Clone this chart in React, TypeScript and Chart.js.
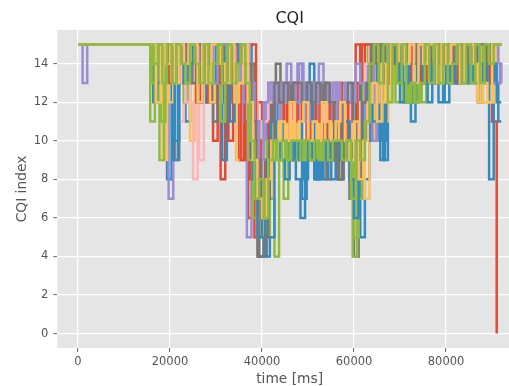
import React, { useEffect, useRef } from 'react';
import { Chart, registerables } from 'chart.js';
Chart.register(...registerables);

const FONT = 'DejaVu Sans';

// sampling instants of the three groups of UEs (ms)
const timesA = [
  0, 1000, 2000,
  15000, 16000, 17000, 18000, 19000, 20000, 21000, 22000, 23000, 24000,
  25000, 26000, 27000, 28000, 29000, 30000, 31000, 32000, 33000, 34000,
  35000, 36000, 37000, 38000, 39000, 40000, 41000, 42000, 43000, 44000,
  45000, 46000, 47000, 48000, 49000, 50000, 51000, 52000, 53000, 54000,
  55000, 56000, 57000, 58000, 59000, 60000, 61000, 62000, 63000, 64000,
  65000, 66000, 67000, 68000, 69000, 70000, 71000, 72000, 73000, 74000,
  75000, 76000, 77000, 78000, 79000, 80000, 81000, 82000, 83000, 84000,
  85000, 86000, 87000, 88000, 89000, 90000, 91000, 92000,
];
const timesB = [
  0, 1000, 2000,
  15350, 16350, 17350, 18350, 19350, 20350, 21350, 22350, 23350, 24350,
  25350, 26350, 27350, 28350, 29350, 30350, 31350, 32350, 33350, 34350,
  35350, 36350, 37350, 38350, 39350, 40350, 41350, 42350, 43350, 44350,
  45350, 46350, 47350, 48350, 49350, 50350, 51350, 52350, 53350, 54350,
  55350, 56350, 57350, 58350, 59350, 60350, 61350, 62350, 63350, 64350,
  65350, 66350, 67350, 68350, 69350, 70350, 71350, 72350, 73350, 74350,
  75350, 76350, 77350, 78350, 79350, 80350, 81350, 82350, 83350, 84350,
  85350, 86350, 87350, 88350, 89350, 90350, 91350, 92000,
];
const timesC = [
  0, 1000, 2000,
  15700, 16700, 17700, 18700, 19700, 20700, 21700, 22700, 23700, 24700,
  25700, 26700, 27700, 28700, 29700, 30700, 31700, 32700, 33700, 34700,
  35700, 36700, 37700, 38700, 39700, 40700, 41700, 42700, 43700, 44700,
  45700, 46700, 47700, 48700, 49700, 50700, 51700, 52700, 53700, 54700,
  55700, 56700, 57700, 58700, 59700, 60700, 61700, 62700, 63700, 64700,
  65700, 66700, 67700, 68700, 69700, 70700, 71700, 72700, 73700, 74700,
  75700, 76700, 77700, 78700, 79700, 80700, 81700, 82700, 83700, 84700,
  85700, 86700, 87700, 88700, 89700, 90700, 91700, 92000,
];
const timeGroups = [timesA, timesB, timesC];

const red1 = [
  15, 15, 15,
  15, 15, 15, 15, 15, 14, 15, 15, 13, 15, 14, 15, 13, 15, 12, 15, 8, 15, 13, 15, 9, 15,
  6, 8, 12, 11, 10, 12,
  11, 12, 10, 12, 11, 12, 13, 11, 12, 10, 12, 11, 12, 10, 11, 12,
  10, 12, 8, 12,
  13, 15, 14, 15, 13, 15,
  15, 14, 15, 13, 15, 15, 14, 15, 13, 15, 15, 14, 15, 15, 13, 15, 14, 15, 13, 15, 14, 11,
  0, null,
];
const blue1 = [
  15, 15, 15,
  15, 12, 15, 14, 8, 13, 15, 14, 11, 15, 13, 14, 15, 12, 13, 14, 9, 14, 12, 14, 15, 13,
  11, 9, 4, 5, 8, 10,
  12, 10, 9, 11, 8, 6, 9, 14, 8, 9, 8, 10, 9, 11, 10, 9,
  9, 10, 5, 8,
  12, 10, 13, 9, 13, 14,
  14, 13, 12, 11, 13, 14, 13, 14, 13, 12, 13, 14, 13, 14, 13, 15, 14, 13, 14, 13, 8, 13,
  11, 11,
];
const purple1 = [
  15, 13, 15,
  15, 15, 15, 15, 7, 15, 14, 15, 13, 15, 14, 15, 15, 12, 15, 14, 15, 13, 15, 14, 11, 5,
  9, 7, 10, 12, 11, 13,
  12, 13, 11, 13, 14, 12, 13, 11, 12, 13, 11, 12, 13, 12, 11, 10,
  12, 11, 13, 10,
  14, 10, 12, 14, 13, 15,
  15, 15, 14, 15, 15, 14, 15, 15, 15, 14, 15, 15, 15, 14, 15, 15, 15, 14, 15, 15, 15, 14,
  13, 13,
];
const gray1 = [
  15, 15, 15,
  15, 15, 15, 15, 15, 14, 9, 15, 13, 15, 14, 15, 12, 13, 15, 14, 15, 13, 12, 15, 14, 15,
  12, 7, 4, 4, 9, 13,
  14, 13, 12, 13, 12, 13, 12, 13, 12, 13, 12, 8, 9, 12, 13, 12,
  7, 4, 10, 12,
  13, 15, 14, 15, 14, 13,
  14, 15, 14, 15, 14, 15, 15, 14, 15, 14, 15, 14, 15, 14, 15, 13, 14, 15, 14, 15, 14, 15,
  15, 15,
];
const yellow1 = [
  15, 15, 15,
  15, 15, 15, 9, 15, 13, 15, 14, 15, 10, 15, 13, 15, 14, 15, 12, 15, 14, 13, 9, 15, 14,
  10, 6, 5, 9, 7, 11,
  10, 11, 9, 11, 10, 12, 11, 9, 10, 11, 12, 10, 11, 9, 10, 11,
  11, 9, 12, 7,
  10, 12, 14, 11, 15, 13,
  15, 14, 13, 15, 14, 15, 13, 15, 14, 15, 13, 15, 14, 15, 13, 14, 15, 13, 12, 12, 12, 14,
  15, 15,
];
const green1 = [
  15, 15, 15,
  11, 15, 9, 13, 15, 13, 14, 15, 13, 15, 13, 14, 15, 13, 15, 13, 15, 12, 13, 15, 13, 15,
  11, 8, 6, 5, 7, 4,
  9, 7, 10, 9, 10, 9, 10, 9, 10, 9, 10, 9, 10, 9, 10, 9,
  4, 7, 10, 12,
  13, 15, 12, 15, 14, 15,
  13, 12, 13, 12, 13, 12, 13, 15, 13, 15, 13, 15, 13, 15, 13, 15, 13, 15, 14, 13, 15, 15,
  15, 15,
];
const pink1 = [
  15, 15, 15,
  15, 15, 15, 15, 15, 13, 15, 11, 15, 12, 8, 14, 15, 13, 15, 14, 15, 15, 14, 15, 15, 14,
  13, 12, 10, 11, 12, 12,
  12, 11, 12, 11, 12, 11, 12, 11, 12, 11, 12, 11, 12, 13, 12, 11,
  12, 10, 13, 11,
  14, 15, 13, 14, 15, 15,
  15, 15, 15, 14, 15, 15, 15, 15, 14, 15, 15, 15, 15, 15, 14, 15, 15, 15, 15, 14, 15, 15,
  15, 15,
];
const red2 = [
  15, 15, 15,
  15, 15, 15, 14, 15, 15, 15, 14, 13, 15, 15, 14, 12, 15, 10, 15, 14, 15, 15, 13, 9, 15,
  8, 5, 10, 12, 13, 12,
  13, 12, 11, 12, 13, 12, 11, 13, 12, 11, 10, 12, 11, 13, 12, 11,
  12, 15, 14, 15,
  15, 14, 15, 13, 15, 14,
  15, 15, 13, 15, 14, 15, 15, 15, 13, 15, 14, 15, 15, 13, 15, 15, 15, 14, 15, 15, 13, 15,
  15, 15,
];
const blue2 = [
  15, 15, 15,
  15, 15, 15, 15, 15, 9, 15, 14, 15, 13, 14, 12, 15, 13, 14, 15, 12, 13, 15, 14, 13, 15,
  9, 7, 6, 4, 5, 10,
  11, 10, 9, 10, 12, 7, 9, 10, 8, 9, 11, 9, 10, 8, 9, 10,
  9, 11, 13, 10,
  12, 14, 9, 13, 15, 14,
  13, 14, 13, 12, 14, 13, 14, 13, 14, 15, 12, 14, 13, 14, 15, 13, 14, 13, 14, 13, 14, 13,
  13, 13,
];
const purple2 = [
  15, 15, 15,
  15, 15, 15, 15, 15, 15, 14, 15, 15, 13, 15, 15, 14, 15, 15, 13, 15, 15, 14, 15, 14, 12,
  11, 9, 8, 10, 12, 13,
  11, 13, 12, 13, 11, 14, 12, 13, 11, 12, 13, 12, 11, 13, 12, 13,
  13, 12, 11, 14,
  11, 10, 14, 12, 15, 14,
  15, 14, 15, 14, 15, 15, 14, 15, 14, 15, 15, 14, 15, 14, 15, 15, 14, 15, 14, 15, 15, 13,
  13, 13,
];
const gray2 = [
  15, 15, 15,
  15, 15, 15, 15, 15, 15, 15, 13, 15, 14, 15, 15, 13, 14, 11, 15, 15, 14, 15, 15, 13, 15,
  14, 11, 4, 5, 11, 12,
  13, 12, 13, 12, 13, 12, 13, 12, 13, 12, 13, 12, 13, 8, 12, 11,
  12, 10, 13, 12,
  14, 15, 14, 15, 14, 15,
  15, 14, 15, 15, 14, 15, 15, 14, 15, 15, 14, 15, 14, 15, 14, 14, 15, 14, 15, 14, 15, 15,
  15, 15,
];
const yellow2 = [
  15, 15, 15,
  15, 15, 15, 15, 12, 15, 14, 15, 15, 13, 15, 14, 15, 12, 15, 13, 14, 15, 15, 13, 15, 14,
  11, 9, 6, 8, 9, 10,
  11, 12, 11, 10, 11, 12, 10, 11, 12, 11, 10, 11, 12, 10, 11, 12,
  10, 8, 11, 13,
  11, 14, 12, 15, 13, 15,
  14, 15, 15, 14, 15, 14, 15, 15, 14, 13, 15, 15, 14, 15, 15, 14, 15, 12, 15, 15, 14, 15,
  15, 15,
];
const green2 = [
  15, 15, 15,
  15, 13, 15, 11, 15, 14, 13, 15, 12, 14, 15, 13, 14, 15, 13, 15, 11, 14, 15, 13, 14, 15,
  9, 6, 5, 8, 10, 9,
  10, 9, 10, 9, 9, 10, 9, 10, 9, 10, 9, 10, 9, 9, 10, 9,
  9, 5, 12, 14,
  15, 13, 15, 14, 15, 15,
  12, 13, 12, 13, 12, 15, 13, 15, 14, 15, 13, 15, 13, 14, 15, 13, 15, 13, 14, 15, 13, 15,
  15, 15,
];
const pink2 = [
  15, 15, 15,
  15, 15, 15, 14, 15, 15, 13, 15, 12, 15, 15, 9, 15, 14, 15, 13, 15, 14, 15, 15, 13, 15,
  12, 10, 9, 11, 12, 13,
  12, 13, 12, 11, 12, 13, 11, 12, 13, 12, 11, 12, 13, 12, 11, 12,
  11, 9, 12, 14,
  15, 13, 15, 14, 15, 15,
  15, 15, 14, 15, 15, 15, 14, 15, 15, 15, 15, 14, 15, 15, 15, 15, 14, 15, 15, 15, 14, 15,
  15, 15,
];
const red3 = [
  15, 15, 15,
  15, 15, 15, 15, 13, 15, 15, 14, 15, 15, 12, 15, 14, 15, 15, 13, 15, 10, 15, 14, 15, 15,
  15, 10, 7, 9, 11, 12,
  12, 11, 12, 13, 11, 12, 10, 12, 11, 12, 13, 11, 12, 11, 10, 12,
  11, 13, 15, 15,
  14, 15, 15, 13, 15, 15,
  15, 15, 15, 14, 15, 13, 15, 15, 15, 14, 15, 15, 13, 15, 15, 14, 15, 15, 15, 13, 15, 15,
  15, 15,
];
const blue3 = [
  15, 15, 15,
  15, 15, 13, 15, 14, 15, 10, 15, 13, 14, 15, 12, 15, 14, 13, 15, 14, 15, 11, 15, 14, 15,
  12, 8, 5, 6, 9, 11,
  10, 9, 8, 9, 10, 9, 8, 13, 9, 8, 9, 10, 8, 9, 10, 11,
  8, 6, 10, 12,
  13, 11, 14, 10, 14, 15,
  14, 12, 13, 14, 13, 14, 13, 12, 14, 13, 14, 13, 14, 13, 14, 13, 14, 13, 12, 14, 13, 14,
  12, 12,
];
const purple3 = [
  15, 15, 15,
  15, 15, 15, 15, 15, 14, 15, 15, 13, 15, 15, 14, 15, 15, 13, 15, 15, 14, 15, 13, 15, 15,
  13, 11, 9, 12, 13, 12,
  13, 12, 14, 13, 12, 13, 11, 13, 12, 14, 13, 12, 13, 11, 12, 13,
  12, 14, 13, 11,
  12, 14, 13, 15, 14, 15,
  15, 15, 15, 15, 14, 15, 15, 15, 15, 14, 15, 15, 15, 15, 15, 14, 15, 15, 15, 15, 15, 15,
  14, 13,
];
const gray3 = [
  15, 15, 15,
  15, 15, 15, 15, 14, 15, 15, 15, 14, 13, 15, 15, 14, 15, 15, 14, 13, 15, 15, 15, 14, 14,
  11, 9, 6, 7, 10, 13,
  12, 13, 12, 13, 13, 12, 13, 12, 13, 12, 13, 12, 9, 8, 12, 13,
  11, 8, 12, 13,
  15, 14, 15, 14, 15, 14,
  14, 15, 14, 14, 15, 14, 15, 14, 15, 14, 14, 15, 14, 15, 14, 15, 14, 15, 15, 14, 15, 15,
  15, 15,
];
const yellow3 = [
  15, 15, 15,
  15, 15, 12, 15, 14, 15, 13, 15, 14, 15, 15, 12, 15, 13, 15, 15, 14, 13, 15, 12, 13, 15,
  12, 9, 7, 6, 8, 10,
  10, 11, 10, 12, 10, 11, 12, 10, 11, 10, 12, 11, 10, 11, 12, 10,
  9, 11, 8, 10,
  12, 13, 11, 14, 12, 15,
  15, 15, 14, 15, 13, 15, 14, 15, 15, 13, 15, 14, 15, 15, 13, 15, 15, 14, 12, 13, 12, 15,
  15, 15,
];
const green3 = [
  15, 15, 15,
  15, 14, 15, 13, 15, 13, 15, 14, 13, 15, 14, 13, 15, 13, 14, 15, 13, 15, 13, 14, 15, 13,
  10, 7, 8, 6, 9, 10,
  9, 10, 9, 10, 10, 9, 10, 9, 10, 9, 10, 9, 10, 10, 9, 10,
  7, 10, 9, 11,
  14, 15, 13, 15, 12, 15,
  13, 15, 12, 13, 12, 13, 15, 13, 15, 13, 15, 13, 14, 15, 13, 15, 13, 15, 13, 15, 14, 15,
  15, 15,
];

const seriesList = [
  red1, blue1, purple1, gray1, yellow1, green1, pink1,
  red2, blue2, purple2, gray2, yellow2, green2, pink2,
  red3, blue3, purple3, gray3, yellow3, green3,
];
const seriesColors = ['#E24A33', '#348ABD', '#988ED5', '#777777', '#FBC15E', '#8EBA42', '#FFB5B8'];

const xTicks = [0, 20000, 40000, 60000, 80000];
const yTicks = [0, 2, 4, 6, 8, 10, 12, 14];

const chartTitle = 'CQI';
const xTitle = 'time [ms]';
const yTitle = 'CQI index';

const bgPlugin = {
  id: 'bgPlugin',
  beforeDraw(chart: any) {
    const { ctx, chartArea } = chart;
    ctx.save();
    ctx.fillStyle = '#E5E5E5';
    ctx.fillRect(chartArea.left, chartArea.top, chartArea.right - chartArea.left, chartArea.bottom - chartArea.top);
    ctx.restore();
  },
  afterDraw(chart: any) {
    const { ctx, chartArea } = chart;
    ctx.save();
    ctx.fillStyle = '#222222';
    ctx.font = `16px "${FONT}"`;
    ctx.textAlign = 'center';
    ctx.textBaseline = 'middle';
    ctx.fillText(chartTitle, (chartArea.left + chartArea.right) / 2, 18.5);
    ctx.restore();
  },
};

export default function App() {
  const ref = useRef<HTMLCanvasElement | null>(null);
  useEffect(() => {
    if (!ref.current) return;
    const n = seriesList.length;
    const datasets = seriesList.map((vals, i) => {
      const t = timeGroups[i % 3];
      return {
        label: 'UE ' + (i + 1),
        data: vals.map((v, j) => ({ x: t[j], y: v })),
        borderColor: seriesColors[i % seriesColors.length],
        backgroundColor: seriesColors[i % seriesColors.length],
        borderWidth: 2.5,
        pointRadius: 0,
        stepped: true as const,
        fill: false,
        spanGaps: false,
        order: n - i,
      };
    });
    const chart = new Chart(ref.current, {
      type: 'line',
      data: { datasets },
      plugins: [bgPlugin],
      options: {
        responsive: false,
        animation: false,
        devicePixelRatio: 1,
        layout: { padding: { left: 15.6, right: 13, top: 30, bottom: 0 } },
        plugins: {
          legend: { display: false },
          tooltip: { enabled: false },
          title: { display: false },
        },
        scales: {
          x: {
            type: 'linear',
            min: -4500,
            max: 96500,
            afterBuildTicks: (s: any) => { s.ticks = xTicks.map((v) => ({ value: v })); },
            afterFit: (s: any) => { s.height = 38; },
            grid: { color: '#FFFFFF', lineWidth: 1.2, tickColor: '#666666', tickLength: 4, tickWidth: 1 },
            border: { display: false },
            ticks: {
              color: '#555555',
              font: { family: FONT, size: 11.5 },
              padding: 3,
              maxRotation: 0,
              autoSkip: false,
              callback: (v: any) => String(v),
            },
            title: { display: true, text: xTitle, color: '#555555', font: { family: FONT, size: 13.8, lineHeight: 1 }, padding: 0 },
          },
          y: {
            type: 'linear',
            min: -0.75,
            max: 15.75,
            afterBuildTicks: (s: any) => { s.ticks = yTicks.map((v) => ({ value: v })); },
            afterFit: (s: any) => { s.width = 41.7; },
            grid: { color: '#FFFFFF', lineWidth: 1.2, tickColor: '#666666', tickLength: 4, tickWidth: 1 },
            border: { display: false },
            ticks: {
              color: '#555555',
              font: { family: FONT, size: 11.5 },
              padding: 5,
              autoSkip: false,
              callback: (v: any) => String(v),
            },
            title: { display: true, text: yTitle, color: '#555555', font: { family: FONT, size: 13.8, lineHeight: 1 }, padding: 0 },
          },
        },
      },
    });
    return () => chart.destroy();
  }, []);
  return (
    <div style={{ position: 'absolute', left: 0, top: 0, width: 509, height: 386, overflow: 'hidden', background: '#fff' }}>
      <canvas ref={ref} width={535} height={386} style={{ width: 535, height: 386, display: 'block' }} />
    </div>
  );
}
